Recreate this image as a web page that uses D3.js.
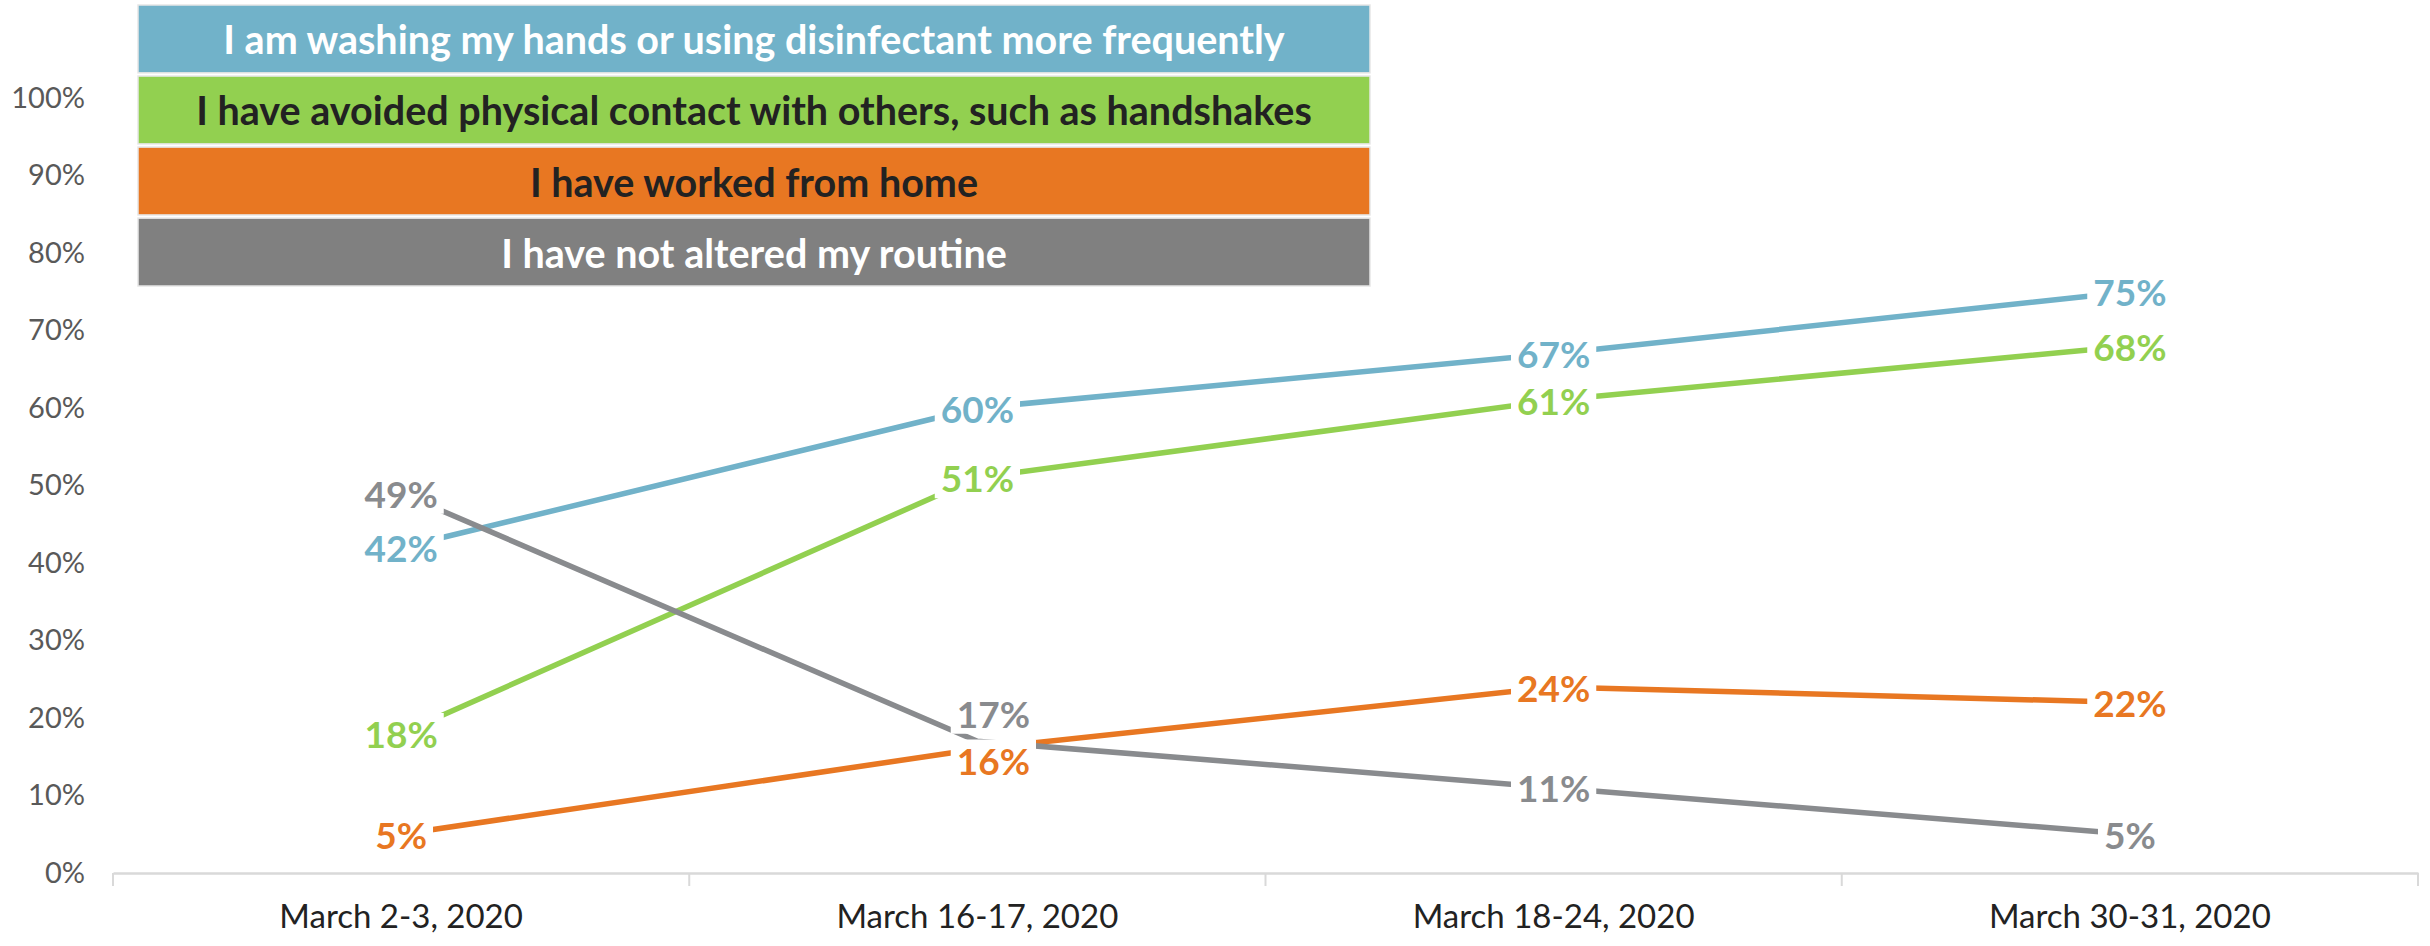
<!DOCTYPE html>
<html>
<head>
<meta charset="utf-8">
<script src="https://cdn.jsdelivr.net/npm/d3@7"></script>
<style>
  html, body { margin: 0; padding: 0; background: #fff; }
  svg { display: block; }
  text { font-family: Lato, "Open Sans", sans-serif; }
</style>
</head>
<body>
<script>
// ---- data ----
const categories = ["March 2-3, 2020", "March 16-17, 2020", "March 18-24, 2020", "March 30-31, 2020"];
const seriesNames = [
  "I am washing my hands or using disinfectant more frequently",
  "I have avoided physical contact with others, such as handshakes",
  "I have worked from home",
  "I have not altered my routine"
];
const washingHands = [0.42, 0.60, 0.67, 0.75];
const avoidedContact = [0.18, 0.51, 0.61, 0.68];
const workedFromHome = [0.05, 0.16, 0.24, 0.22];
const notAltered = [0.49, 0.17, 0.11, 0.05];
const yTicks = [0, 0.1, 0.2, 0.3, 0.4, 0.5, 0.6, 0.7, 0.8, 0.9, 1.0];

// ---- styles ----
const lineColors = ["#71B2C9", "#92D050", "#E87722", "#898B8E"];
const boxColors = ["#71B2C9", "#92D050", "#E87722", "#808080"];
const boxText = ["#ffffff", "#222222", "#222222", "#ffffff"];

const W = 2430, H = 946;
const margin = { top: 98, right: 12, bottom: 73, left: 113 };

const svg = d3.select("body").append("svg").attr("width", W).attr("height", H);

const x = d3.scaleBand().domain(categories).range([margin.left, W - margin.right]);
const y = d3.scaleLinear().domain([0, 1]).range([H - margin.bottom, margin.top]);

// y axis labels
const yAxis = d3.axisLeft(y).tickValues(yTicks).tickFormat(d3.format(".0%")).tickSize(0).tickPadding(28);
const gy = svg.append("g").attr("transform", `translate(${margin.left},0)`).call(yAxis);
gy.select(".domain").remove();
gy.selectAll("text").attr("fill", "#595959").style("font-size", "29px").style("font-family", "Lato");

// x axis
const xAxis = d3.axisBottom(x).tickSize(0).tickPadding(32);
const gx = svg.append("g").attr("transform", `translate(0,${y(0)})`).call(xAxis);
gx.select(".domain").attr("stroke", "#D9D9D9").attr("stroke-width", 2.5);
gx.selectAll("text").attr("fill", "#222").style("font-size", "33px").style("font-family", "Lato").attr("dy", "0.71em");
const boundaries = categories.map(c => x(c)).concat([x.range()[1]]);
gx.selectAll("line.bound").data(boundaries).enter().append("line")
  .attr("class", "bound")
  .attr("x1", d => d).attr("x2", d => d)
  .attr("y1", 0).attr("y2", 13)
  .attr("stroke", "#D9D9D9").attr("stroke-width", 2);

// series
const allSeries = [washingHands, avoidedContact, workedFromHome, notAltered];
const line = d3.line().x((d, i) => x(categories[i]) + x.bandwidth() / 2).y(d => y(d));

svg.append("g").selectAll("path").data(allSeries).enter().append("path")
  .attr("d", d => line(d))
  .attr("fill", "none")
  .attr("stroke", (d, i) => lineColors[i])
  .attr("stroke-width", 5.5)
  .attr("stroke-linejoin", "round");

// label offsets for overlapping labels (series index, point index) -> [dx, dy]
const labelOffsets = { "3-1": [16, -28], "2-1": [16, 11] };

const labelG = svg.append("g");
allSeries.forEach((vals, si) => {
  vals.forEach((v, pi) => {
    const off = labelOffsets[`${si}-${pi}`] || [0, 0];
    const cx = x(categories[pi]) + x.bandwidth() / 2 + off[0];
    const cy = y(v) + off[1];
    const g = labelG.append("g");
    const t = g.append("text")
      .attr("x", cx).attr("y", cy)
      .attr("text-anchor", "middle")
      .attr("dominant-baseline", "central")
      .attr("fill", lineColors[si])
      .style("font-size", "37px")
      .style("font-weight", "bold")
      .text(d3.format(".0%")(v));
    const bb = t.node().getBBox();
    g.insert("rect", "text")
      .attr("x", bb.x - 6).attr("y", bb.y + 2)
      .attr("width", bb.width + 12).attr("height", bb.height - 4)
      .attr("fill", "#fff");
  });
});

// legend boxes
const ly = d3.scaleBand().domain(seriesNames).range([5, 286]).paddingInner(0.045);
const legend = svg.append("g").selectAll("g").data(seriesNames).enter().append("g");
legend.append("rect")
  .attr("x", 138).attr("width", 1370 - 138)
  .attr("y", d => ly(d)).attr("height", ly.bandwidth())
  .attr("fill", (d, i) => boxColors[i])
  .attr("stroke", "#e6e6e6").attr("stroke-width", 1.5);
legend.append("text")
  .attr("x", (138 + 1370) / 2)
  .attr("y", d => ly(d) + ly.bandwidth() / 2)
  .attr("text-anchor", "middle")
  .attr("dominant-baseline", "central")
  .attr("fill", (d, i) => boxText[i])
  .style("font-size", "39.5px")
  .style("font-weight", "bold")
  .text(d => d);
</script>
</body>
</html>
